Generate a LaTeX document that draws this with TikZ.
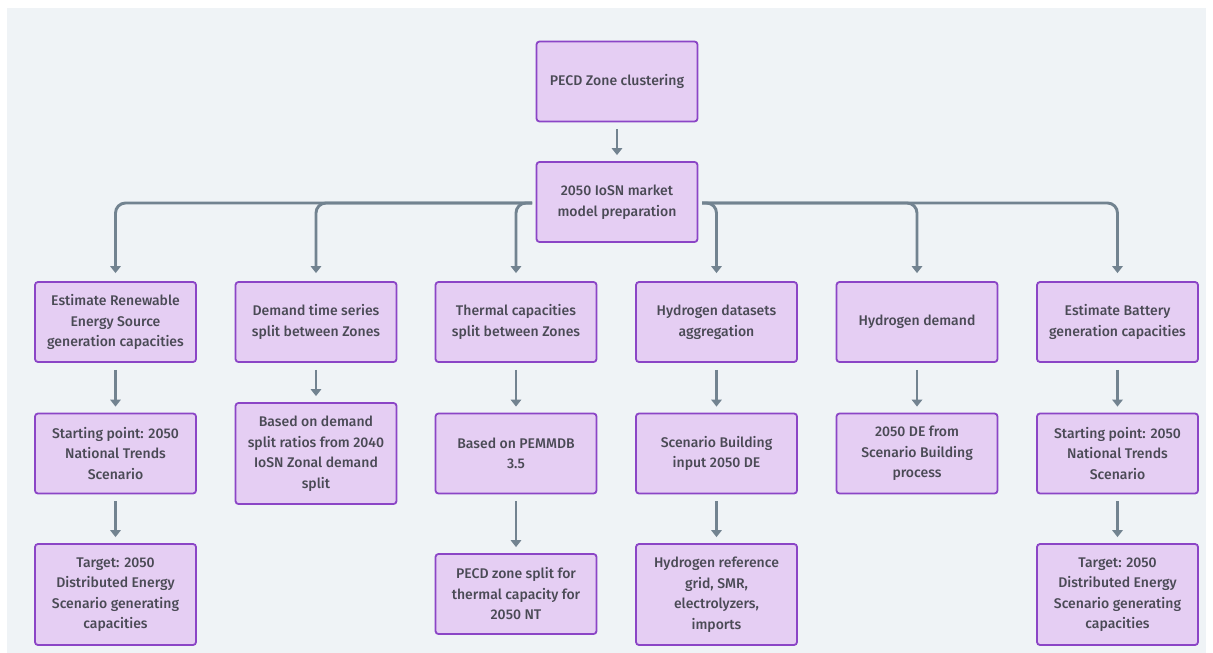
\documentclass[tikz,border=0pt]{standalone}
\usepackage{fontspec}
\setmainfont{Fira Sans}[UprightFont={* Medium}]
\usetikzlibrary{arrows.meta}
\definecolor{bgcol}{HTML}{EFF3F6}
\definecolor{boxfill}{HTML}{E5CEF3}
\definecolor{boxline}{HTML}{8B45C6}
\definecolor{txtcol}{HTML}{4A4A55}
\definecolor{conncol}{HTML}{728390}
\tikzset{
  box/.style={draw=boxline, fill=boxfill, line width=1.8pt, rounded corners=3pt,
    text=txtcol, align=center, inner sep=0pt, minimum width=161pt,
    font=\fontsize{14}{20.5}\selectfont},
  h80/.style={minimum height=80pt},
  h100/.style={minimum height=101pt},
  conn/.style={draw=conncol, line width=2.9pt, rounded corners=10pt,
    -{Triangle[width=10.5pt,length=7pt]}},
  varrow/.style={conn, shorten <=7pt, shorten >=6pt},
  busarrow/.style={conn, shorten >=8pt}
}
\begin{document}
\begin{tikzpicture}[x=1pt,y=-1pt]
\fill[white] (0,0) rectangle (1213,653);
\useasboundingbox (0,0) rectangle (1213,653);
\fill[bgcol] (7,8) rectangle (1206,653);

\node[box,h80] (top) at (617,81.5) {PECD Zone clustering};
\node[box,h80] (mk) at (617,202) {2050 IoSN market\\model preparation};

\node[box,h80] (a1) at (115.5,322) {Estimate Renewable\\Energy Source\\generation capacities};
\node[box,h80] (b1) at (316,322) {Demand time series\\split between Zones};
\node[box,h80] (c1) at (516,322) {Thermal capacities\\split between Zones};
\node[box,h80] (d1) at (716.5,322) {Hydrogen datasets\\aggregation};
\node[box,h80] (e1) at (917,322) {Hydrogen demand};
\node[box,h80] (f1) at (1117.5,322) {Estimate Battery\\generation capacities};

\node[box,h80] (a2) at (115.5,453.5) {Starting point: 2050\\National Trends\\Scenario};
\node[box,h100] (b2) at (316,453.5) {Based on demand\\split ratios from 2040\\IoSN Zonal demand\\split};
\node[box,h80] (c2) at (516,453.5) {Based on PEMMDB\\3.5};
\node[box,h80] (d2) at (716.5,453.5) {Scenario Building\\input 2050 DE};
\node[box,h80] (e2) at (917,453.5) {2050 DE from\\Scenario Building\\process};
\node[box,h80] (f2) at (1117.5,453.5) {Starting point: 2050\\National Trends\\Scenario};

\node[box,h100] (a3) at (115.5,594.5) {Target: 2050\\Distributed Energy\\Scenario generating\\capacities};
\node[box,h80] (c3) at (516,594) {PECD zone split for\\thermal capacity for\\2050 NT};
\node[box,h100] (d3) at (716.5,594.5) {Hydrogen reference\\grid, SMR,\\electrolyzers,\\imports};
\node[box,h100] (f3) at (1117.5,594.5) {Target: 2050\\Distributed Energy\\Scenario generating\\capacities};

\draw[varrow] (top) -- (mk);

\coordinate (bl) at (532,203);
\coordinate (br) at (702,203);
\draw[busarrow] (bl) -| (a1);
\draw[busarrow] (bl) -| (b1);
\draw[busarrow] (bl) -| (c1);
\draw[busarrow] (br) -| (d1);
\draw[busarrow] (br) -| (e1);
\draw[busarrow] (br) -| (f1);

\draw[varrow] (a1) -- (a2);
\draw[varrow] (a2) -- (a3);
\draw[varrow] (b1) -- (b2);
\draw[varrow] (c1) -- (c2);
\draw[varrow] (c2) -- (c3);
\draw[varrow] (d1) -- (d2);
\draw[varrow] (d2) -- (d3);
\draw[varrow] (e1) -- (e2);
\draw[varrow] (f1) -- (f2);
\draw[varrow] (f2) -- (f3);
\end{tikzpicture}
\end{document}
